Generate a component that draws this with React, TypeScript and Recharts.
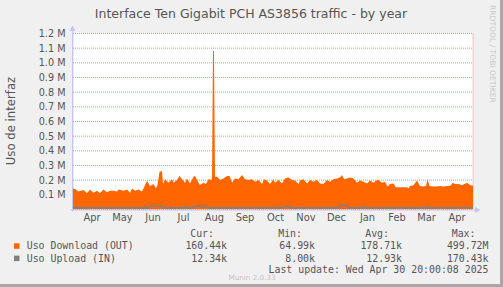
import { ComposedChart, Area, Line, XAxis, YAxis, CartesianGrid } from 'recharts';

// ── Data (days since 1 Apr 2024, values in k) ─────────────────────────────────
const DOWN_DAYS = [
  -4, -2, 1.5, 6.5, 10, 13, 16.5, 20, 23, 26.5, 30, 33, 36.5, 40, 41.5, 46.5, 50, 53, 55, 58,
  61.5, 65, 66.5, 68, 70, 73, 76.5, 79, 80.5, 82.5, 85, 86, 88, 91.5, 95, 96.5, 100, 102.5, 105, 108,
  110, 113, 116.5, 118, 121.5, 123, 126.5, 129, 131.5, 135, 136, 137, 138, 140, 143, 146.5, 150, 152.5, 155, 158,
  161.5, 165, 168, 171.5, 175, 178, 181.5, 185, 187, 190, 193, 196.5, 198, 201.5, 205, 208, 211.5, 215, 218, 221.5,
  223, 226.5, 230, 233, 236.5, 240, 243, 246.5, 250, 253, 256.5, 260, 263, 265, 267, 270, 273, 276.5, 280, 283,
  286.5, 290, 293, 296.5, 299, 301.5, 305, 308, 310.5, 313, 316.5, 319, 323, 326.5, 330, 331.5, 333, 336.5, 340, 343,
  346.5, 349, 350.5, 352.5, 356.5, 360, 363, 366.5, 370, 373, 376, 378, 381.5, 385, 390, 393, 396,
];
const DOWN_K = [
  143, 140, 122, 133, 110, 137, 115, 128, 110, 137, 117, 128, 128, 122, 137, 128, 137, 115, 144, 128,
  137, 122, 144, 167, 196, 160, 174, 144, 167, 258, 262, 174, 206, 183, 206, 183, 201, 228, 206, 183,
  212, 178, 224, 228, 183, 167, 183, 174, 206, 201, 1080, 1080, 224, 224, 201, 212, 228, 228, 183, 212,
  206, 235, 206, 201, 206, 190, 201, 174, 206, 197, 174, 206, 183, 201, 178, 212, 219, 201, 197, 174,
  197, 206, 178, 201, 190, 201, 178, 174, 201, 190, 206, 212, 219, 235, 206, 212, 219, 212, 183, 197,
  190, 178, 197, 183, 197, 201, 183, 190, 156, 174, 178, 151, 151, 151, 151, 144, 160, 165, 197, 160,
  156, 160, 208, 160, 156, 156, 160, 156, 160, 160, 183, 174, 174, 165, 183, 167, 162,
];
const UP_DAYS = [-4, 72, 73.5, 84, 85, 86, 107, 108, 109, 116, 117, 130, 131, 207, 208, 212, 213, 262, 263, 270, 271, 285, 286, 287, 349, 350, 351, 396];
const UP_K = [11, 11, 24, 26, 28, 11, 11, 20, 11, 11, 22, 22, 11, 11, 20, 20, 11, 11, 28, 28, 11, 11, 20, 11, 11, 20, 11, 12];

const MONTH_STARTS = [0, 30, 61, 91, 122, 153, 183, 214, 244, 275, 306, 334, 365];
const MONTH_MIDS = [15, 45.5, 76, 106.5, 137.5, 168, 198.5, 229, 259.5, 290.5, 320, 349.5, 380];
const MONTH_NAMES = ['Apr', 'May', 'Jun', 'Jul', 'Aug', 'Sep', 'Oct', 'Nov', 'Dec', 'Jan', 'Feb', 'Mar', 'Apr'];
const Y_TICKS = [100, 200, 300, 400, 500, 600, 700, 800, 900, 1000, 1100, 1200];

const SERIES_NAMES = ['Uso Download (OUT)', 'Uso Upload (IN)'];
const SERIES_COLORS = ['#ff6600', '#808080'];
const CUR = ['160.44k', '12.34k'];
const MIN = ['64.99k', '8.00k'];
const AVG = ['178.71k', '12.93k'];
const MAX = ['499.72M', '170.43k'];

const downData = DOWN_DAYS.map((d, i) => ({ d, v: DOWN_K[i] }));
const upData = UP_DAYS.map((d, i) => ({ d, v: UP_K[i] }));

const W = 503;
const H = 287;
const PLOT_L = 73;
const PLOT_R = 473;
const PLOT_T = 33.5;
const PLOT_B = 209.5;

const SANS = 'DejaVu Sans, sans-serif';
const MONO = 'DejaVu Sans Mono, monospace';
const TXT = '#555';
const AXIS = '#c4c4f0';

function Overlay() {
  const cols = [
    { head: 'Cur:', vals: CUR, end: 227 },
    { head: 'Min:', vals: MIN, end: 315 },
    { head: 'Avg:', vals: AVG, end: 402 },
    { head: 'Max:', vals: MAX, end: 488.5 },
  ];
  const rowY = [249.3, 261.6];
  return (
    <svg width={W} height={H} style={{ position: 'absolute', left: 0, top: 0, pointerEvents: 'none' }}>
      {/* frame */}
      <line x1={0} y1={H - 1.5} x2={W} y2={H - 1.5} stroke="#a8a8a8" strokeWidth={3} />
      <line x1={W - 1.5} y1={0} x2={W - 1.5} y2={H} stroke="#a8a8a8" strokeWidth={3} />

      <text x={251} y={18.3} textAnchor="middle" fontFamily={SANS} fontSize={12.5} fill={TXT}>
        Interface Ten Gigabit PCH AS3856 traffic - by year
      </text>
      <text x={15} y={121} transform="rotate(-90 15 121)" textAnchor="middle" fontFamily={SANS} fontSize={11.7} fill={TXT}>
        Uso de interfaz
      </text>
      <text x={490} y={5} transform="rotate(90 490 5)" fontFamily={SANS} fontSize={7.6} fill="#c8c8c8">
        RRDTOOL / TOBI OETIKER
      </text>

      {/* axes with arrows */}
      <line x1={PLOT_L - 0.5} y1={28} x2={PLOT_L - 0.5} y2={PLOT_B + 2} stroke={AXIS} strokeWidth={1} />
      <path d={`M${PLOT_L - 3.5},31 L${PLOT_L - 0.5},25.5 L${PLOT_L + 2.5},31 Z`} fill={AXIS} />
      <line x1={PLOT_L - 3} y1={PLOT_B + 0.5} x2={477} y2={PLOT_B + 0.5} stroke={AXIS} strokeWidth={1} />
      <path d={`M475,${PLOT_B - 2.5} L480.5,${PLOT_B + 0.5} L475,${PLOT_B + 3.5} Z`} fill={AXIS} />

      {/* legend */}
      {cols.map((c) => (
        <text key={c.head} x={c.end - 13} y={237} textAnchor="end" fontFamily={MONO} fontSize={9.9} fill={TXT}>
          {c.head}
        </text>
      ))}
      {SERIES_NAMES.map((name, i) => (
        <g key={name}>
          <rect x={14} y={rowY[i] - 6} width={5.5} height={5.5} fill={SERIES_COLORS[i]} />
          <text x={26.7} y={rowY[i]} fontFamily={MONO} fontSize={9.9} fill={TXT} style={{ whiteSpace: 'pre' }}>
            {name}
          </text>
          {cols.map((c) => (
            <text key={c.head} x={c.end} y={rowY[i]} textAnchor="end" fontFamily={MONO} fontSize={9.9} fill={TXT}>
              {c.vals[i]}
            </text>
          ))}
        </g>
      ))}
      <text x={488.5} y={273} textAnchor="end" fontFamily={MONO} fontSize={9.9} fill={TXT} style={{ whiteSpace: 'pre' }}>
        Last update: Wed Apr 30 20:00:08 2025
      </text>
      <text x={252} y={279.5} textAnchor="middle" fontFamily={SANS} fontSize={7.2} fill="#c4c4c4">
        Munin 2.0.33
      </text>
    </svg>
  );
}

export default function App() {
  return (
    <div style={{ position: 'absolute', left: 0, top: 0, width: W, height: H, background: '#f0f0f0' }}>
      <ComposedChart
        width={W}
        height={H}
        margin={{ top: PLOT_T, right: W - PLOT_R, bottom: H - PLOT_B - 20, left: 0 }}
      >
        <CartesianGrid stroke="#f08a8a" strokeDasharray="1 1" fill="#ffffff" />
        <XAxis
          xAxisId={0}
          dataKey="d"
          type="number"
          domain={[-4, 396]}
          ticks={MONTH_STARTS}
          allowDataOverflow
          tick={false}
          tickLine={false}
          axisLine={false}
          height={0}
        />
        <XAxis
          xAxisId="lab"
          dataKey="d"
          type="number"
          domain={[-4, 396]}
          ticks={MONTH_MIDS}
          interval={0}
          allowDataOverflow
          tickFormatter={(v: number) => MONTH_NAMES[MONTH_MIDS.indexOf(v)] ?? ''}
          tickLine={false}
          axisLine={false}
          tickSize={0}
          tickMargin={4}
          height={20}
          tick={{ fontSize: 9.9, fill: TXT, fontFamily: SANS }}
        />
        <YAxis
          type="number"
          domain={[0, 1200]}
          ticks={Y_TICKS}
          interval={0}
          width={PLOT_L}
          allowDataOverflow
          axisLine={false}
          tickLine={false}
          tickSize={0}
          tickMargin={7.5}
          tickFormatter={(v: number) => `${(v / 1000).toFixed(1)} M`}
          tick={{ fontSize: 9.7, fill: TXT, fontFamily: SANS }}
        />
        <Area
          data={downData}
          dataKey="v"
          type="linear"
          stroke="none"
          fill="#ff6600"
          fillOpacity={1}
          isAnimationActive={false}
        />
        <Line
          data={upData}
          dataKey="v"
          type="linear"
          stroke="#808080"
          strokeWidth={1.6}
          dot={false}
          isAnimationActive={false}
        />
      </ComposedChart>
      <Overlay />
    </div>
  );
}
